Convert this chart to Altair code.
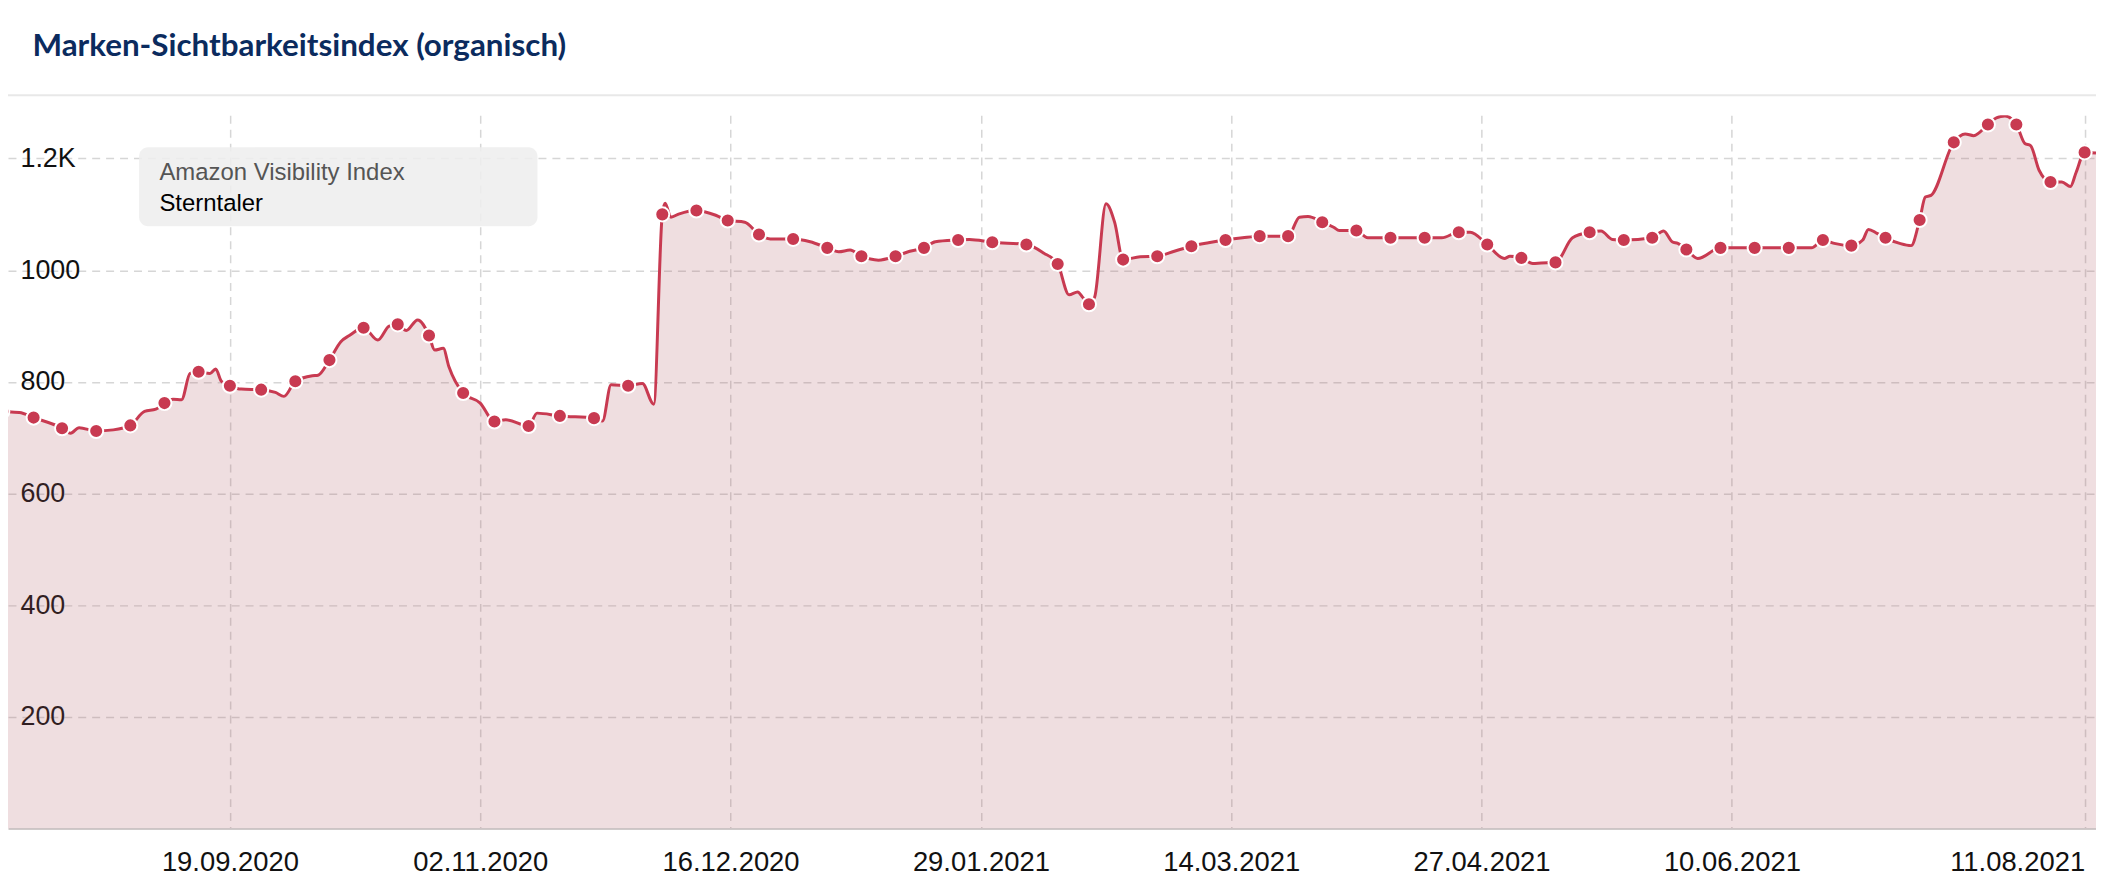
import altair as alt
import pandas as pd

TITLE = "Marken-Sichtbarkeitsindex (organisch)"
INDEX_NAME = "Amazon Visibility Index"
SERIES = "Sterntaler"

# weekly-ish marker points (dots)
dot_dates = [
    "2020-08-10", "2020-08-15T12:00", "2020-08-20T12:00", "2020-08-26T12:00",
    "2020-09-01T12:00", "2020-09-07T12:00", "2020-09-13T12:00", "2020-09-19",
    "2020-09-24T12:00", "2020-09-30T12:00", "2020-10-06T12:00", "2020-10-12T12:00",
    "2020-10-18T12:00", "2020-10-24", "2020-10-30", "2020-11-04T12:00",
    "2020-11-10T12:00", "2020-11-16", "2020-11-22", "2020-11-28",
    "2020-12-04", "2020-12-10", "2020-12-15T12:00", "2020-12-21", "2020-12-27",
    "2021-01-02", "2021-01-08", "2021-01-14", "2021-01-19", "2021-01-25", "2021-01-31",
    "2021-02-06", "2021-02-11T12:00", "2021-02-17", "2021-02-23",
    "2021-03-01", "2021-03-07", "2021-03-13", "2021-03-19", "2021-03-24", "2021-03-30",
    "2021-04-05", "2021-04-11", "2021-04-17", "2021-04-23", "2021-04-28",
    "2021-05-04", "2021-05-10", "2021-05-16", "2021-05-22", "2021-05-27",
    "2021-06-02", "2021-06-08", "2021-06-14", "2021-06-20", "2021-06-26",
    "2021-07-01", "2021-07-07", "2021-07-13", "2021-07-19", "2021-07-25", "2021-07-30",
    "2021-08-05", "2021-08-11",
]
dot_values = [
    747, 736, 717, 712, 722, 762, 818, 793, 786, 801,
    839, 897, 903, 883, 780, 729, 721, 739, 735, 793,
    1100, 1107, 1089, 1064, 1056, 1040, 1025, 1025, 1040, 1054,
    1050, 1046, 1011, 939, 1019, 1025, 1043, 1054, 1061, 1061,
    1086, 1071, 1058, 1058, 1068, 1046, 1022, 1014, 1068, 1054,
    1058, 1037, 1040, 1040, 1040, 1054, 1044, 1058, 1090, 1229,
    1261, 1261, 1158, 1211,
]

# daily wiggles of the line between the dots
mid_dates = [
    "2020-08-13", "2020-08-22", "2020-08-23T12:00", "2020-08-29T12:00",
    "2020-09-04", "2020-09-06", "2020-09-09", "2020-09-10T12:00", "2020-09-12",
    "2020-09-15T12:00", "2020-09-16T12:00", "2020-09-17T12:00", "2020-09-21",
    "2020-09-27", "2020-09-28T12:00", "2020-10-03T12:00", "2020-10-04T12:00",
    "2020-10-08T12:00", "2020-10-10", "2020-10-15", "2020-10-17", "2020-10-20",
    "2020-10-22", "2020-10-25", "2020-10-26T12:00", "2020-10-27T12:00",
    "2020-11-02", "2020-11-06T12:00", "2020-11-12", "2020-11-23T12:00",
    "2020-11-25", "2020-11-30T12:00", "2020-12-02T12:00", "2020-12-04T12:00",
    "2020-12-05T12:00", "2020-12-07", "2020-12-13T12:00", "2020-12-18T12:00",
    "2020-12-23", "2020-12-30", "2021-01-04", "2021-01-06", "2021-01-11",
    "2021-01-16T12:00", "2021-01-21", "2021-01-27", "2021-02-09",
    "2021-02-13T12:00", "2021-02-15", "2021-02-16", "2021-02-18", "2021-02-20",
    "2021-02-21T12:00", "2021-02-26", "2021-03-04", "2021-03-10", "2021-03-16",
    "2021-03-26", "2021-03-27T12:00", "2021-04-01", "2021-04-02", "2021-04-07",
    "2021-04-20", "2021-04-25", "2021-05-01", "2021-05-02", "2021-05-06",
    "2021-05-07T12:00", "2021-05-13", "2021-05-18", "2021-05-20", "2021-05-29",
    "2021-05-30T12:00", "2021-05-31T12:00", "2021-06-04", "2021-06-24",
    "2021-06-28", "2021-07-03", "2021-07-04", "2021-07-05T12:00",
    "2021-07-09T12:00", "2021-07-11T12:00", "2021-07-14", "2021-07-15",
    "2021-07-21", "2021-07-22T12:00", "2021-07-26T12:00", "2021-07-28",
    "2021-07-31T12:00", "2021-08-01T12:00", "2021-08-03", "2021-08-07",
    "2021-08-08T12:00", "2021-08-09T12:00", "2021-08-13",
]
mid_values = [
    745, 708, 718, 714,
    747, 751, 769, 768, 815,
    815, 823, 801, 787,
    781, 774, 811, 812,
    872, 883, 875, 900, 892,
    911, 857, 860, 827,
    762, 732, 744, 730,
    795, 797, 760, 1120,
    1095, 1101, 1098, 1086,
    1056, 1051, 1033, 1036, 1018,
    1034, 1051, 1055, 1031,
    956, 961, 950, 952, 1119,
    1086, 1024, 1034, 1049, 1058,
    1095, 1096, 1077, 1071, 1058,
    1058, 1068, 1021, 1025, 1012,
    1013, 1058, 1070, 1055, 1070,
    1051, 1048, 1021, 1040,
    1048, 1054, 1073, 1066,
    1048, 1044, 1131, 1134,
    1244, 1241, 1273, 1276,
    1227, 1223, 1179, 1158,
    1150, 1175, 1210,
]

y_ticks = [200, 400, 600, 800, 1000, 1200]
x_ticks = [(2020, 9, 19), (2020, 11, 2), (2020, 12, 16), (2021, 1, 29),
           (2021, 3, 14), (2021, 4, 27), (2021, 6, 10), (2021, 8, 11)]

RED = "#c83a51"
AREA = "#b05a66"
GRID = "#d6d6d6"
LABEL_FONT = "Liberation Sans"

dots = pd.DataFrame({"date": pd.to_datetime(dot_dates, format="ISO8601"),
                     "value": dot_values, "marker": 1})
mids = pd.DataFrame({"date": pd.to_datetime(mid_dates, format="ISO8601"),
                     "value": mid_values, "marker": 0})
df = pd.concat([dots, mids]).sort_values("date").reset_index(drop=True)
df["series"] = SERIES

W, H = 2096, 716

x_enc = alt.X(
    "date:T",
    scale=alt.Scale(domain=[alt.DateTime(year=2020, month=8, date=11),
                            alt.DateTime(year=2021, month=8, date=13)]),
    axis=alt.Axis(
        values=[alt.DateTime(year=y, month=m, date=d) for (y, m, d) in x_ticks],
        format="%d.%m.%Y", title=None,
        labelFont=LABEL_FONT, labelFontSize=27.5, labelColor="#111",
        labelPadding=34.5, labelBaseline="middle", labelFlush=False,
        labelOverlap=False,
        labelAlign={"condition": {"test": "datum.value > datetime(2021, 6, 20)",
                                  "value": "right"}, "value": "center"},
        ticks=False, tickSize=0,
        domain=True, domainColor="#cfcaca", domainWidth=2,
        grid=True, gridColor=GRID, gridDash=[8, 6], gridWidth=1.5,
    ),
)
y_enc = alt.Y(
    "value:Q",
    scale=alt.Scale(domain=[0, 1277.5], nice=False, zero=True),
    axis=alt.Axis(
        values=y_ticks, format="d", title=None,
        labelExpr="datum.value > 1000 ? format(datum.value / 1000, '.1f') + 'K' : datum.label",
        labelFont=LABEL_FONT, labelFontSize=27, labelColor="#111",
        labelAlign="left", labelBaseline="middle", labelPadding=-12,
        ticks=False, tickSize=0, domain=False,
        grid=True, gridColor=GRID, gridDash=[8, 6], gridWidth=1.5,
    ),
)

base = alt.Chart(df)

area = base.mark_area(interpolate="monotone", color=AREA, opacity=0.2, clip=True).encode(
    x=x_enc, y=y_enc)
line = base.mark_line(interpolate="monotone", color=RED, strokeWidth=3, clip=True).encode(
    x="date:T", y="value:Q")
points = base.transform_filter("datum.marker == 1").mark_circle(
    size=200, opacity=1, stroke="white", strokeWidth=2).encode(
    x="date:T", y="value:Q",
    color=alt.Color("series:N", scale=alt.Scale(domain=[SERIES], range=[RED]),
                    legend=alt.Legend(
                        title=INDEX_NAME, orient="none", legendX=152, legendY=45.5,
                        padding=0, titleFont=LABEL_FONT, titleFontSize=24,
                        titleFontWeight="normal", titleColor="#555555",
                        titleLimit=600, labelLimit=600,
                        titlePadding=8, labelFont=LABEL_FONT, labelFontSize=24,
                        labelColor="#000000", labelOffset={"expr": "-24"},
                        symbolSize=0, symbolOpacity=0, symbolStrokeWidth=0)))

one = pd.DataFrame({"k": [0]})
box = alt.Chart(one).mark_rect(cornerRadius=9, color="#eeeeee", opacity=0.88).encode(
    x=alt.value(131.6), x2=alt.value(531.5), y=alt.value(32), y2=alt.value(111.5))
sep = alt.Chart(one).mark_rule(color="#e8e8e8", strokeWidth=2).encode(
    x=alt.value(0), x2=alt.value(W), y=alt.value(-20))

chart = alt.layer(area, line, points, box, sep).properties(
    width=W, height=H,
    background="white",
    autosize=alt.AutoSizeParams(type="none"),
    padding={"left": 0, "right": 0, "top": 106, "bottom": 48},
    title=alt.TitleParams(TITLE, anchor="start", frame="group", font="Lato",
                          fontSize=31.5, fontWeight="bold", color="#0b2b5e",
                          baseline="alphabetic", offset=7, dx=24.5),
).configure_view(stroke=None)

chart.save("out.html", embed_options={"renderer": "svg", "actions": False})
